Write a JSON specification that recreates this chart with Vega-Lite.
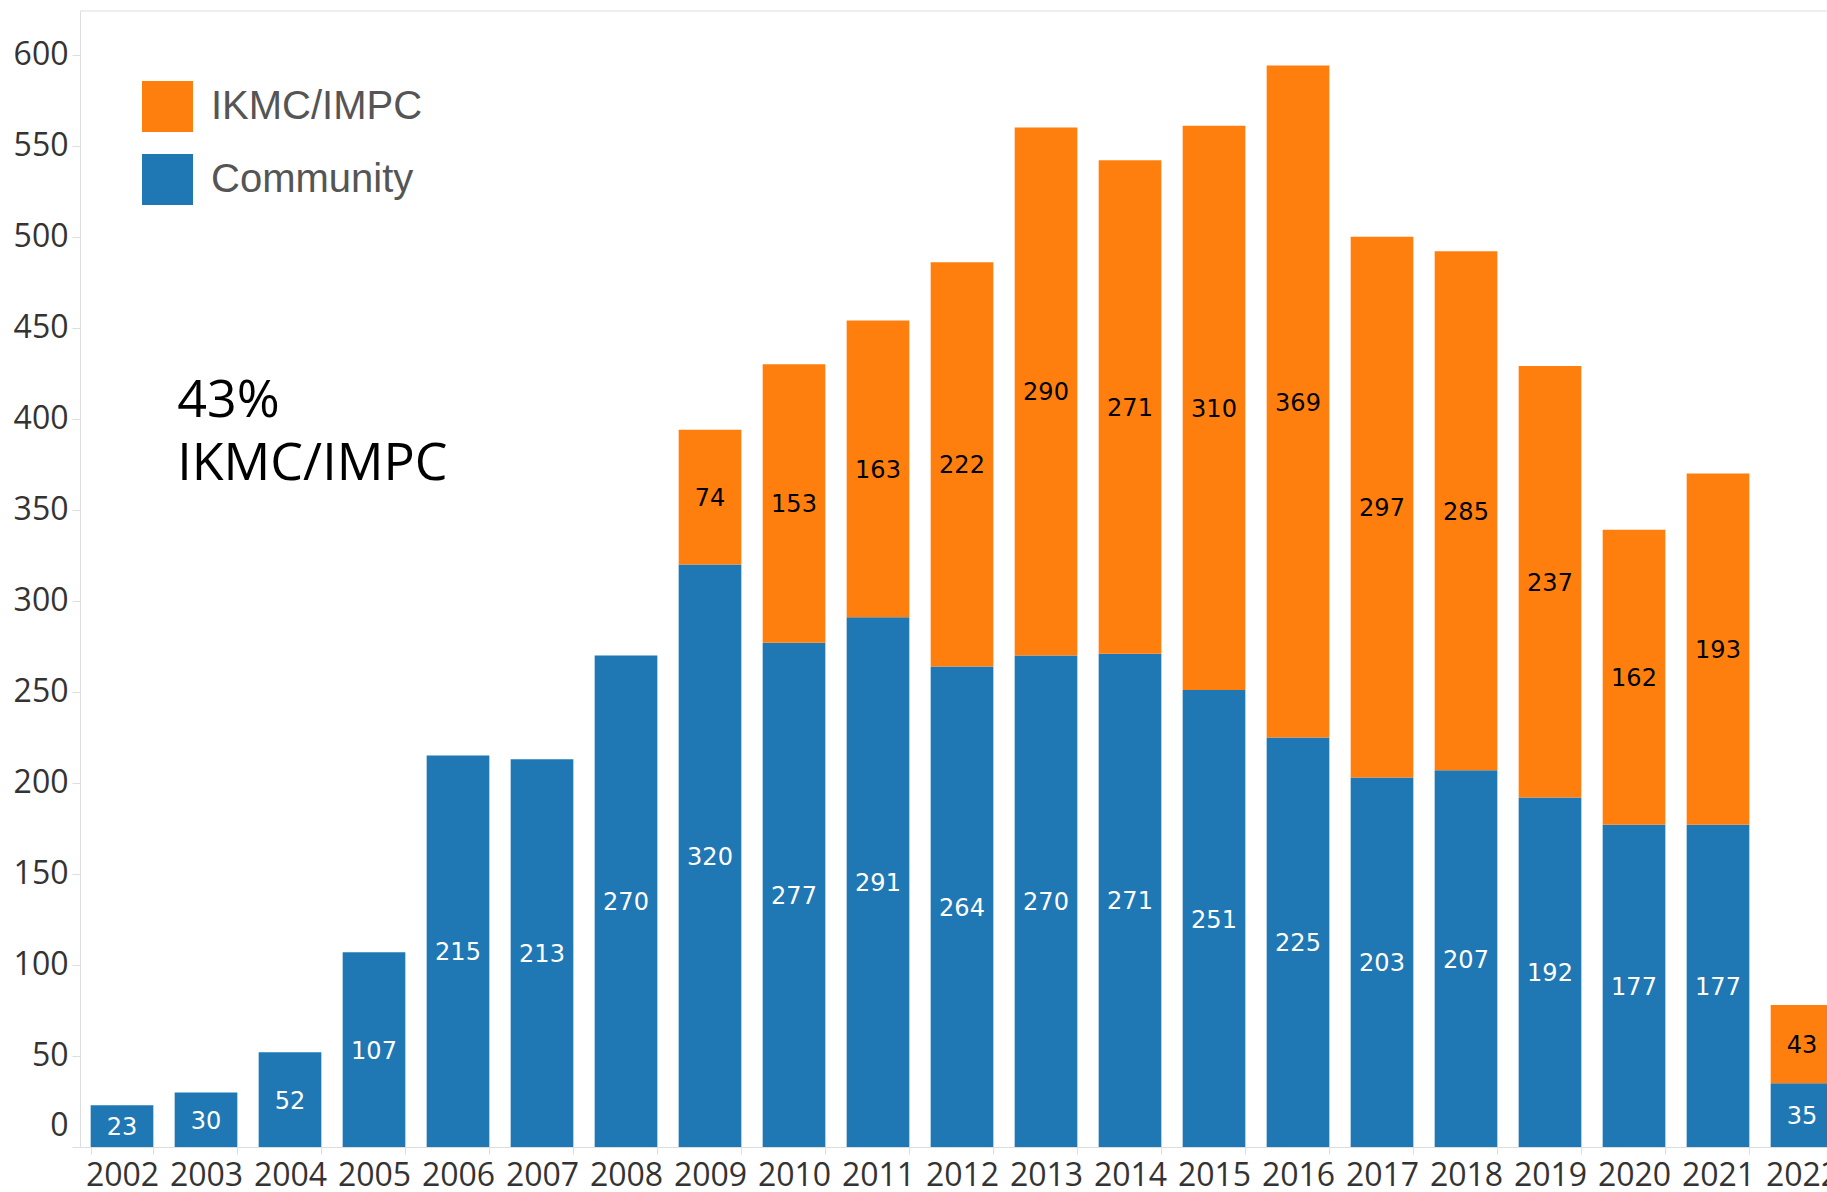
{
  "$schema": "https://vega.github.io/schema/vega-lite/v6.json",
  "autosize": "none",
  "width": 1747,
  "height": 1136,
  "padding": {"left": 80, "top": 11, "right": 0, "bottom": 45},
  "config": {
    "view": {"stroke": null},
    "axis": {
      "labelFont": "Open Sans",
      "labelFontSize": 32,
      "labelColor": "#333333",
      "domainColor": "#dddddd",
      "tickColor": "#dddddd",
      "grid": false,
      "title": null
    }
  },
  "data": {
    "values": [
      {"year": "2002", "series": "Community", "n": 23},
      {"year": "2003", "series": "Community", "n": 30},
      {"year": "2004", "series": "Community", "n": 52},
      {"year": "2005", "series": "Community", "n": 107},
      {"year": "2006", "series": "Community", "n": 215},
      {"year": "2007", "series": "Community", "n": 213},
      {"year": "2008", "series": "Community", "n": 270},
      {"year": "2009", "series": "Community", "n": 320},
      {"year": "2009", "series": "IKMC/IMPC", "n": 74},
      {"year": "2010", "series": "Community", "n": 277},
      {"year": "2010", "series": "IKMC/IMPC", "n": 153},
      {"year": "2011", "series": "Community", "n": 291},
      {"year": "2011", "series": "IKMC/IMPC", "n": 163},
      {"year": "2012", "series": "Community", "n": 264},
      {"year": "2012", "series": "IKMC/IMPC", "n": 222},
      {"year": "2013", "series": "Community", "n": 270},
      {"year": "2013", "series": "IKMC/IMPC", "n": 290},
      {"year": "2014", "series": "Community", "n": 271},
      {"year": "2014", "series": "IKMC/IMPC", "n": 271},
      {"year": "2015", "series": "Community", "n": 251},
      {"year": "2015", "series": "IKMC/IMPC", "n": 310},
      {"year": "2016", "series": "Community", "n": 225},
      {"year": "2016", "series": "IKMC/IMPC", "n": 369},
      {"year": "2017", "series": "Community", "n": 203},
      {"year": "2017", "series": "IKMC/IMPC", "n": 297},
      {"year": "2018", "series": "Community", "n": 207},
      {"year": "2018", "series": "IKMC/IMPC", "n": 285},
      {"year": "2019", "series": "Community", "n": 192},
      {"year": "2019", "series": "IKMC/IMPC", "n": 237},
      {"year": "2020", "series": "Community", "n": 177},
      {"year": "2020", "series": "IKMC/IMPC", "n": 162},
      {"year": "2021", "series": "Community", "n": 177},
      {"year": "2021", "series": "IKMC/IMPC", "n": 193},
      {"year": "2022", "series": "Community", "n": 35},
      {"year": "2022", "series": "IKMC/IMPC", "n": 43}
    ]
  },
  "layer": [
    {
      "mark": {"type": "bar"},
      "encoding": {
        "x": {
          "field": "year",
          "type": "ordinal",
          "scale": {"range": [0, 1764], "paddingInner": 0.254, "paddingOuter": 0.127},
          "axis": {"labelAngle": 0, "tickBand": "extent", "tickSize": 7, "labelPadding": 6}
        },
        "y": {
          "field": "n",
          "type": "quantitative",
          "stack": "zero",
          "scale": {"domain": [0, 624], "nice": false},
          "axis": {
            "values": [0, 50, 100, 150, 200, 250, 300, 350, 400, 450, 500, 550, 600],
            "tickSize": 8,
            "labelPadding": 4,
            "labelFlush": true,
            "labelFlushOffset": -5
          }
        },
        "color": {
          "field": "series",
          "type": "nominal",
          "scale": {"domain": ["IKMC/IMPC", "Community"], "range": ["#ff7f0e", "#1f77b4"]},
          "legend": {
            "title": null,
            "orient": "none",
            "legendX": 62,
            "legendY": 70,
            "padding": 0,
            "symbolType": "square",
            "symbolSize": 2601,
            "symbolStrokeWidth": 0,
            "labelFont": "Liberation Sans",
            "labelFontSize": 40,
            "labelColor": "#555555",
            "labelLimit": 0,
            "labelOffset": 18,
            "rowPadding": 22
          }
        },
        "order": {"field": "series", "sort": "ascending"}
      }
    },
    {
      "mark": {"type": "text", "font": "DejaVu Sans", "fontSize": 24, "baseline": "middle", "dy": 2},
      "encoding": {
        "x": {"field": "year", "type": "ordinal"},
        "y": {"field": "n", "type": "quantitative", "stack": "zero", "bandPosition": 0.5},
        "detail": {"field": "series"},
        "order": {"field": "series", "sort": "ascending"},
        "text": {"field": "n", "type": "quantitative"},
        "color": {
          "condition": {"test": "datum.series === 'Community'", "value": "white"},
          "value": "black"
        }
      }
    },
    {
      "data": {"values": [{"note": "43%\nIKMC/IMPC"}]},
      "mark": {
        "type": "text",
        "font": "Open Sans",
        "fontSize": 52,
        "align": "left",
        "baseline": "alphabetic",
        "lineBreak": "\n",
        "lineHeight": 63,
        "color": "black"
      },
      "encoding": {
        "x": {"datum": "2003", "type": "ordinal", "bandPosition": 0.04},
        "y": {"datum": 401, "type": "quantitative"},
        "text": {"field": "note"}
      }
    },
    {
      "data": {"values": [{}]},
      "mark": {"type": "rule", "color": "#dddddd"},
      "encoding": {"y": {"datum": 624, "type": "quantitative"}}
    }
  ]
}
